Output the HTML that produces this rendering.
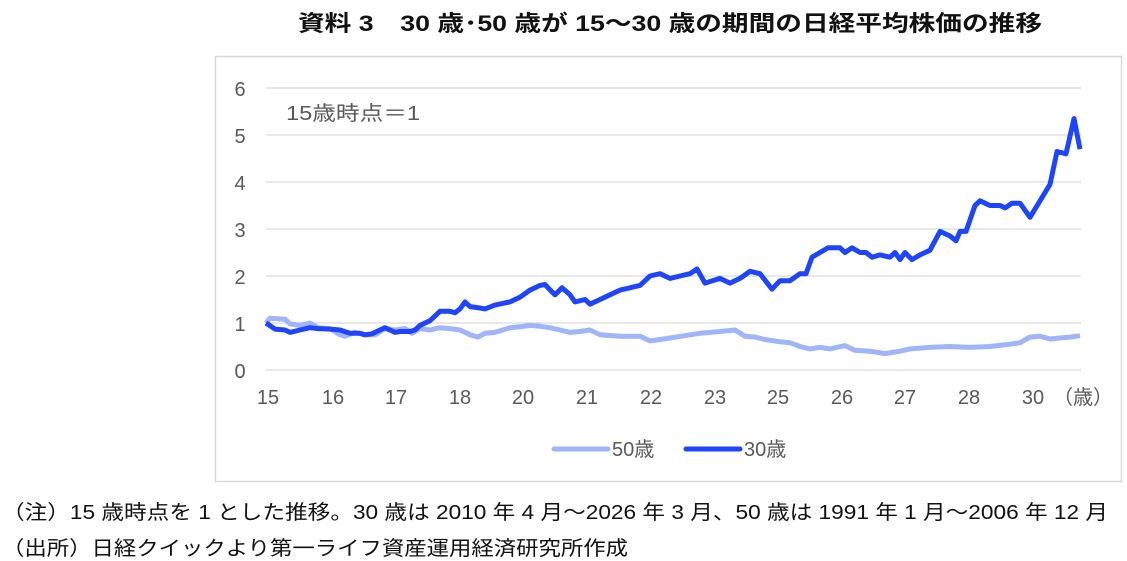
<!DOCTYPE html>
<html><head><meta charset="utf-8"><style>
body{margin:0;width:1127px;height:561px;background:#fff;overflow:hidden;font-family:"Liberation Sans","Noto Sans CJK JP",sans-serif}
</style></head><body>
<svg width="1127" height="561" viewBox="0 0 1127 561" style="position:absolute;left:0;top:0" font-family="Liberation Sans, Noto Sans CJK JP, sans-serif">
<text x="298" y="31" font-size="22" font-weight="bold" fill="#111" textLength="744" lengthAdjust="spacingAndGlyphs">資料 3　30 歳･50 歳が 15～30 歳の期間の日経平均株価の推移</text>
<rect x="215.5" y="56.5" width="906" height="425" fill="#fff" stroke="#d9d9d9" stroke-width="1.5"/>
<g stroke="#d9d9d9" stroke-width="1.2">
<line x1="266" x2="1081" y1="88" y2="88"/><line x1="266" x2="1081" y1="135" y2="135"/><line x1="266" x2="1081" y1="182" y2="182"/><line x1="266" x2="1081" y1="229" y2="229"/><line x1="266" x2="1081" y1="276" y2="276"/><line x1="266" x2="1081" y1="323" y2="323"/><line x1="266" x2="1081" y1="370" y2="370"/>
</g>
<g font-size="20" fill="#595959" text-anchor="middle">
<text x="240" y="96">6</text><text x="240" y="143">5</text><text x="240" y="190">4</text><text x="240" y="237">3</text><text x="240" y="284">2</text><text x="240" y="331">1</text><text x="240" y="378">0</text>
<text x="268" y="404">15</text><text x="333" y="404">16</text><text x="396" y="404">17</text><text x="460" y="404">18</text><text x="523" y="404">20</text><text x="587" y="404">21</text><text x="651" y="404">22</text><text x="715" y="404">23</text><text x="778" y="404">25</text><text x="842" y="404">26</text><text x="905" y="404">27</text><text x="969" y="404">28</text><text x="1033" y="404">30</text><text x="1083" y="404">（歳）</text>
</g>
<text x="286" y="120" font-size="20" fill="#595959" textLength="134" lengthAdjust="spacingAndGlyphs">15歳時点＝1</text>
<polyline fill="none" stroke="#a0b4fb" stroke-width="5" stroke-linejoin="round" points="266,323 270,318.3 285,319.2 290,323.9 300,325.4 310,323 318,327.7 330,328.6 340,334.8 345,336.2 355,332.4 365,334.8 375,334.8 385,328.6 395,330 405,328.6 412,333.3 420,328.6 430,330 440,327.7 450,328.6 460,330 470,334.8 478,337.1 485,333.3 495,332.4 510,327.7 520,326.8 530,325.4 540,326.3 550,327.7 560,330 570,332.4 580,331.5 590,330 600,334.8 620,336.2 640,336.2 650,340.9 660,339.5 670,338 690,334.8 700,333.3 720,331.5 735,330 745,336.2 755,337.1 765,339.5 780,341.8 790,342.7 800,346.5 810,348.9 820,347.4 830,348.9 845,345.6 855,350.3 870,351.2 885,353.6 900,351.2 910,348.9 930,347.4 950,346.5 970,347.4 990,346.5 1010,344.2 1020,342.7 1030,337.1 1040,336.2 1050,339 1060,338 1070,337.1 1080,335.7"/>
<polyline fill="none" stroke="#1f45fc" stroke-width="5" stroke-linejoin="round" points="266,323 275,329.1 285,330 290,332.4 300,330 310,327.7 318,328.6 330,329.1 340,330 350,333.3 360,333.3 365,334.8 372,333.8 380,330 385,327.7 390,330 395,332.4 400,331.5 410,331.5 415,330 420,325.4 430,320.7 440,311.3 450,311.3 455,312.7 460,308.9 465,301.9 470,306.6 480,308 485,308.9 495,305.1 510,301.9 520,297.2 530,290.1 540,285.4 545,284.5 548,287.8 555,294.8 562,287.8 570,294.8 575,301.9 585,299.5 590,304.2 600,299.5 610,294.8 620,290.1 630,287.8 640,285.4 650,276 660,273.7 670,278.4 680,276 690,273.7 697,269 705,283.1 720,278.4 730,283.1 740,278.4 750,271.3 760,273.7 772,289.2 780,280.7 790,280.7 800,273.7 806,273.7 812,257.2 820,252.5 828,247.8 840,247.8 845,252.5 852,247.8 860,252.5 866,252.5 872,257.2 880,254.9 890,257.2 895,252.5 900,259.6 905,252.5 912,259.6 920,254.9 930,250.2 940,231.4 950,236 956,240.8 960,231.4 966,231.4 975,205.5 980,200.8 990,205.5 1000,205.5 1005,207.9 1012,203.2 1020,203.2 1030,217.3 1040,200.8 1050,184.4 1057,151.5 1066,153.8 1074,118.6 1080,149.1"/>
<line x1="554" x2="608" y1="449" y2="449" stroke="#a0b4fb" stroke-width="5" stroke-linecap="round"/>
<text x="612" y="456" font-size="20" fill="#595959">50歳</text>
<line x1="686" x2="740" y1="449" y2="449" stroke="#1f45fc" stroke-width="5" stroke-linecap="round"/>
<text x="744" y="456" font-size="20" fill="#595959">30歳</text>
<text x="2" y="519" font-size="20" fill="#111" textLength="1106" lengthAdjust="spacingAndGlyphs">（注）15 歳時点を 1 とした推移。30 歳は 2010 年 4 月～2026 年 3 月、50 歳は 1991 年 1 月～2006 年 12 月</text>
<text x="2" y="555" font-size="20" fill="#111" textLength="626" lengthAdjust="spacingAndGlyphs">（出所）日経クイックより第一ライフ資産運用経済研究所作成</text>
</svg>
</body></html>
